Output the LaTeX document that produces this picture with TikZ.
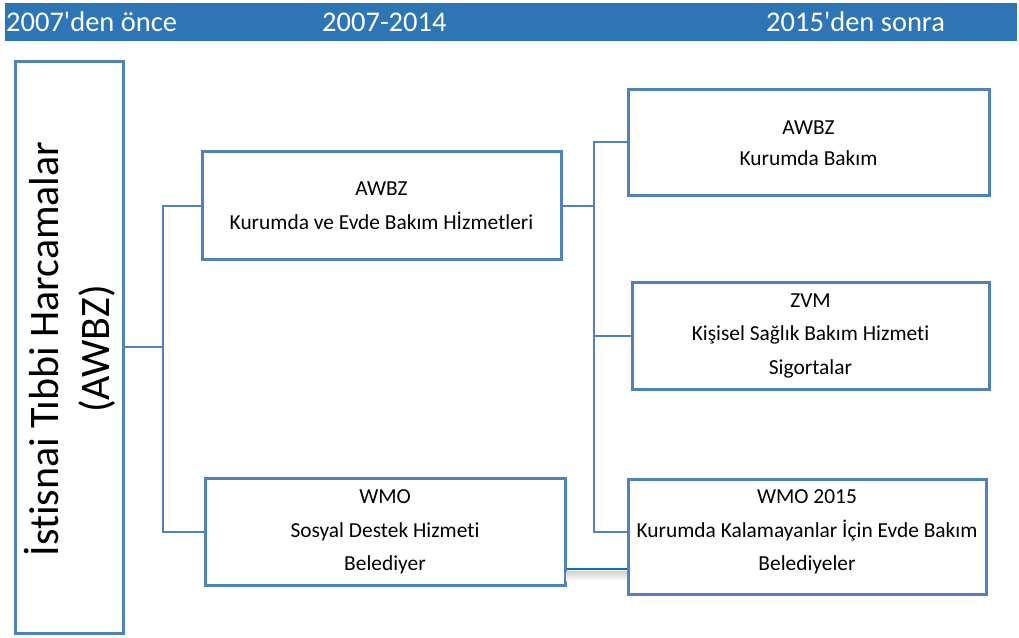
\documentclass[tikz,border=0pt]{standalone}
\usepackage{fontspec}
\setmainfont{Carlito}[Ligatures={TeXOff,NoCommon}]
\usetikzlibrary{calc}
\definecolor{boxblue}{RGB}{79,129,189}
\definecolor{barblue}{RGB}{46,117,182}
\definecolor{darkline}{RGB}{0,112,192}
\tikzset{
  box/.style={draw=boxblue, line width=3pt, fill=white, inner sep=0pt},
  boxtext/.style={align=center, font=\fontsize{21.4}{33.5}\selectfont, text=black, inner sep=0pt},
  htext/.style={anchor=base west, text=white, font=\fontsize{28.5}{30}\selectfont, inner sep=0pt},
  conn/.style={draw=boxblue, line width=2pt},
}
\begin{document}
\begin{tikzpicture}[x=1pt,y=-1pt]
\useasboundingbox (0,0) rectangle (1019,637);
% header bar
\fill[barblue] (5,3) rectangle (1017,41);
\node[htext] (h1) at (6,31) {2007'den önce};
\node[htext] (h2) at (322,31) {2007-2014};
\node[htext] (h3) at (766,31) {2015'den sonra};
% boxes
\node[box, minimum width=108pt, minimum height=572pt] (L) at (69,347) {};
\node[rotate=90, align=center, font=\fontsize{42}{51}\selectfont, inner sep=0pt] (Lt) at (70,349) {İstisnai Tıbbi Harcamalar\\(AWBZ)};
\node[box, minimum width=359pt, minimum height=108pt] (m1) at (381.5,205.7) {};
\node[boxtext] (m1t) at (m1.center) {AWBZ\\Kurumda ve Evde Bakım Hİzmetleri};
\node[box, minimum width=360pt, minimum height=107pt] (m2) at (385,531.5) {};
\node[boxtext] (m2t) at (385,532) {WMO\\Sosyal Destek Hizmeti\\Belediyer};
\node[box, minimum width=361pt, minimum height=106pt] (r1) at (808.5,142) {};
\node[boxtext, font=\fontsize{21.4}{30.5}\selectfont] (r1t) at (808.5,143) {AWBZ\\Kurumda Bakım};
\node[box, minimum width=357pt, minimum height=107pt] (r2) at (810.5,335.5) {};
\node[boxtext] (r2t) at (810.5,335.5) {ZVM\\Kişisel Sağlık Bakım Hizmeti\\Sigortalar};
\node[box, minimum width=358pt, minimum height=115pt] (r3) at (807,536.5) {};
\node[boxtext] (r3t) at (807,532) {WMO 2015\\Kurumda Kalamayanlar İçin Evde Bakım\\Belediyeler};
% connectors left
\coordinate (j1) at (163,347);
\draw[conn] (L.east) -- (j1) |- (m1.west);
\draw[conn] (j1) |- (m2.west);
% connectors middle
\coordinate (j2) at (594,205.7);
\draw[conn] (m1.east) -- (j2) |- (r1.west);
\draw[conn] (j2) |- (r2.west);
\draw[conn] (j2) |- ([yshift=4.5pt]r3.west);
% bottom link with shadow
\coordinate (b1) at ([yshift=-37.5pt]m2.east);
\shade[top color=black!18, bottom color=white] ($(b1)+(0,2)$) rectangle ($(b1 -| r3.west)+(0,12)$);
\draw[draw=darkline, line width=2pt] (b1) -- (b1 -| r3.west);
\end{tikzpicture}
\end{document}
